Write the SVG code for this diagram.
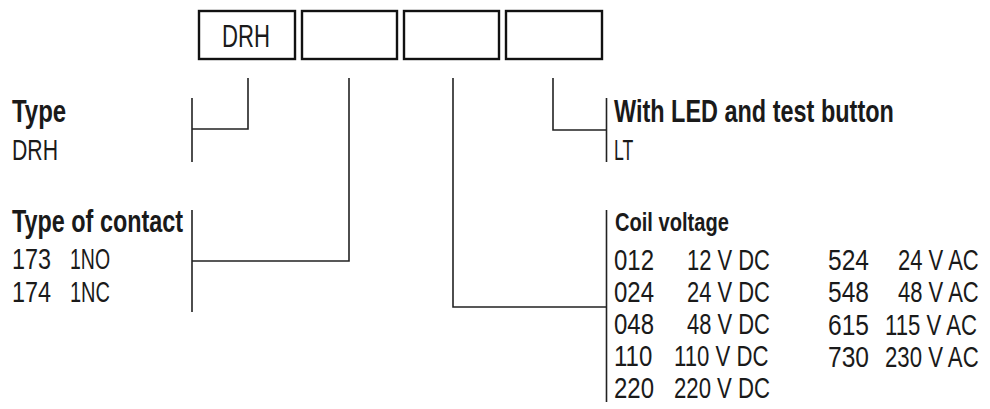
<svg xmlns="http://www.w3.org/2000/svg" width="990" height="409" viewBox="0 0 990 409">
<style>
.box{fill:#fff;stroke:#111;stroke-width:2.4}
.ln{fill:none;stroke:#222;stroke-width:1.6}
text{font-family:"Liberation Sans",Arial,sans-serif;fill:#1a1a1a}
.h{font-weight:bold;font-size:32px}
.hs{font-weight:bold;font-size:25px}
.t{font-size:29.5px}
.b{font-size:31px}
</style>
<rect width="990" height="409" fill="#fff"/>
<g id="box-type">
<rect class="box" x="199" y="11" width="96" height="48"/>
<text class="b" transform="translate(222 47) scale(0.715 1)">DRH</text>
</g>
<g id="box-contact"><rect class="box" x="302" y="11" width="95" height="48"/></g>
<g id="box-coil"><rect class="box" x="404" y="11" width="95" height="48"/></g>
<g id="box-led"><rect class="box" x="506" y="11" width="96" height="48"/></g>
<g id="connectors">
<path class="ln" d="M248,78 V129 H192 M192,98 V162"/>
<path class="ln" d="M349,78 V261 H192 M192,210 V312"/>
<path class="ln" d="M453,78 V307 H606.5 M606.5,210 V402"/>
<path class="ln" d="M553,78 V130 H606.5 M606.5,98 V162"/>
</g>
<g id="label-type">
<text class="h" transform="translate(12 122) scale(0.75 1)">Type</text>
<text class="t" transform="translate(12 160) scale(0.72 1)">DRH</text>
</g>
<g id="label-contact">
<text class="h" transform="translate(12 232) scale(0.731 1)">Type of contact</text>
<text class="t" transform="translate(12 269) scale(0.793 1)">173</text>
<text class="t" transform="translate(70 269) scale(0.66 1)">1NO</text>
<text class="t" transform="translate(12 302) scale(0.793 1)">174</text>
<text class="t" transform="translate(70 302) scale(0.678 1)">1NC</text>
</g>
<g id="label-led">
<text class="h" transform="translate(614 122) scale(0.733 1)">With LED and test button</text>
<text class="t" transform="translate(614 160) scale(0.6 1)">LT</text>
</g>
<g id="label-coil">
<text class="hs" transform="translate(615 231) scale(0.804 1)">Coil voltage</text>
<g transform="translate(614 0)">
<text class="t" transform="translate(0 270) scale(0.813 1)">012</text>
<text class="t" transform="translate(0 302) scale(0.813 1)">024</text>
<text class="t" transform="translate(0 334) scale(0.813 1)">048</text>
<text class="t" transform="translate(0 366) scale(0.813 1)">110</text>
<text class="t" transform="translate(0 398) scale(0.813 1)">220</text>
</g>
<text class="t" transform="translate(687 270) scale(0.744 1)">12 V DC</text>
<text class="t" transform="translate(687 302) scale(0.744 1)">24 V DC</text>
<text class="t" transform="translate(687 334) scale(0.744 1)">48 V DC</text>
<text class="t" transform="translate(674 366) scale(0.751 1)">110 V DC</text>
<text class="t" transform="translate(674 398) scale(0.751 1)">220 V DC</text>
<g transform="translate(828 0)">
<text class="t" transform="translate(0 270) scale(0.833 1)">524</text>
<text class="t" transform="translate(0 302) scale(0.833 1)">548</text>
<text class="t" transform="translate(0 335) scale(0.833 1)">615</text>
<text class="t" transform="translate(0 367) scale(0.833 1)">730</text>
</g>
<text class="t" transform="translate(898 270) scale(0.746 1)">24 V AC</text>
<text class="t" transform="translate(898 302) scale(0.746 1)">48 V AC</text>
<text class="t" transform="translate(885 335) scale(0.752 1)">115 V AC</text>
<text class="t" transform="translate(885 367) scale(0.752 1)">230 V AC</text>
</g>
</svg>
